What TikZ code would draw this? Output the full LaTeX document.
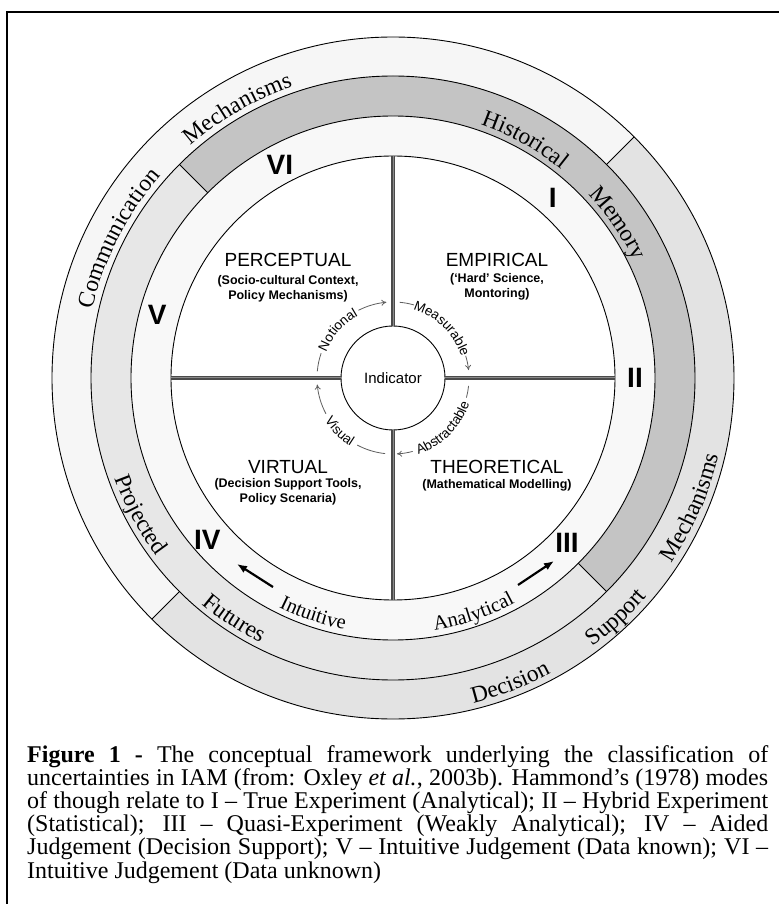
\documentclass[tikz,border=0pt]{standalone}
\usepackage{fontspec}
\setmainfont{Liberation Serif}
\setsansfont{Liberation Sans}
\usetikzlibrary{arrows.meta,decorations.text}

\definecolor{bandlight}{HTML}{F6F6F6}
\definecolor{banddark}{HTML}{E3E3E3}
\definecolor{memgray}{HTML}{C4C4C4}
\definecolor{futgray}{HTML}{E7E7E7}
\definecolor{innerband}{HTML}{F8F8F8}
\definecolor{axisgray}{HTML}{4A4A4A}
\definecolor{axismid}{HTML}{8A8A8A}
\definecolor{loopgray}{HTML}{606060}

\newcommand\ringfont{\rmfamily\fontsize{23.5}{23.5}\selectfont}
\newcommand\bandfont{\rmfamily\fontsize{20.5}{20.5}\selectfont}
\newcommand\loopfont{\sffamily\fontsize{13.5}{13.5}\selectfont}
\newcommand\captionfont{\rmfamily\fontsize{24}{23.2}\selectfont}

% a word bent along a ring, read clockwise (tops outwards)
\newcommand\cwword[4][\ringfont]{%
  \path[decorate, decoration={text along path, text align=center, text={|#1|#4}}]
    (#2+45:#3) arc[start angle=#2+45, end angle=#2-45, radius=#3];}
% a word bent along a ring, read anticlockwise (tops inwards)
\newcommand\ccwword[4][\ringfont]{%
  \path[decorate, decoration={text along path, text align=center, text={|#1|#4}}]
    (#2-45:#3) arc[start angle=#2-45, end angle=#2+45, radius=#3];}

\begin{document}
\begin{tikzpicture}[x=1pt, y=1pt,
    ring/.style={line width=0.9pt},
    crossline/.style={draw=axisgray, line width=1.2pt, double=axismid, double distance=1pt},
    looparc/.style={line width=0.8pt, loopgray},
    numeral/.style={font=\sffamily\bfseries\fontsize{28}{28}\selectfont, inner sep=0pt},
    quadtitle/.style={font=\sffamily\fontsize{19}{19}\selectfont, inner sep=0pt},
    quadsub/.style={font=\sffamily\bfseries\fontsize{12.5}{14.5}\selectfont, align=center, inner sep=0pt},
    bigarrow/.style={line width=2.2pt, -{Latex[length=10pt,width=8pt]}}]
  \useasboundingbox (-393,-526) rectangle (386,378);

  % Frame round figure and caption
  \draw[line width=1.4pt] (-386,-526) -- (-386,366) -- (386,366);

  % Shade the three bands
  \fill[bandlight] (45:341) arc[start angle=45, end angle=225, radius=341]
    -- (225:302) arc[start angle=225, end angle=45, radius=302] -- cycle;
  \fill[banddark] (225:341) arc[start angle=225, end angle=405, radius=341]
    -- (45:302) arc[start angle=405, end angle=225, radius=302] -- cycle;
  \fill[memgray] (-45:302) arc[start angle=-45, end angle=135, radius=302]
    -- (135:262) arc[start angle=135, end angle=-45, radius=262] -- cycle;
  \fill[futgray] (135:302) arc[start angle=135, end angle=315, radius=302]
    -- (315:262) arc[start angle=315, end angle=135, radius=262] -- cycle;
  \fill[innerband] (0,0) circle[radius=262];
  \fill[white] (0,0) circle[radius=222];

  % Ring outlines and the dividers between sectors
  \foreach \r in {341,302,262,222} {
    \draw[ring] (0,0) circle[radius=\r];
  }
  \draw[ring] (45:302) -- (45:341);
  \draw[ring] (225:302) -- (225:341);
  \draw[ring] (135:262) -- (135:302);
  \draw[ring] (315:262) -- (315:302);

  % Words written along the rings
  \cwword{153}{308}{Communication}
  \cwword{120}{308}{Mechanisms}
  \cwword{61}{268}{Historical}
  \cwword{34.5}{268}{Memory}
  \ccwword{208.4}{296}{Projected}
  \ccwword{236.6}{296}{Futures}
  \ccwword{291}{335}{Decision}
  \ccwword{313}{335}{Support}
  \ccwword{336.5}{335}{Mechanisms}
  \ccwword[\bandfont]{251.3}{256}{Intuitive}
  \ccwword[\bandfont]{288.9}{256}{Analytical}

  % Roman numerals in the inner band
  \foreach \ang/\rad/\num [count=\k] in {48.5/241/I, 0/242/II, 316.5/240/III,
      221/246/IV, 165/244/V, 118/241/VI} {
    \node[numeral] (num\k) at (\ang:\rad) {\num};
  }

  % Thick arrows towards IV and III
  \coordinate (intu-tail) at (-120,-209);
  \coordinate (intu-head) at (-156,-186);
  \coordinate (ana-tail) at (125,-207);
  \coordinate (ana-head) at (161,-183);
  \draw[bigarrow] (intu-tail) -- (intu-head);
  \draw[bigarrow] (ana-tail) -- (ana-head);

  % Indicator in the middle, with the four quadrant lines
  \node[circle, draw, line width=0.9pt, fill=white, minimum size=104pt, inner sep=0pt,
    font=\sffamily\fontsize{15}{15}\selectfont] (ind) at (0,0) {Indicator};
  \foreach \ang/\side in {0/east, 90/north, 180/west, 270/south} {
    \coordinate (rim-\side) at (\ang:222);
    \draw[crossline] (ind.\side) -- (rim-\side);
  }

  % Quadrant names
  \node[quadtitle] (perc) at (-105,118) {PERCEPTUAL};
  \node[quadsub] (perc-sub) at (-105,89) {(Socio-cultural Context,\\Policy Mechanisms)};
  \node[quadtitle] (emp) at (104,118) {EMPIRICAL};
  \node[quadsub] (emp-sub) at (104,91) {(`Hard' Science,\\Montoring)};
  \node[quadtitle] (virt) at (-105,-89) {VIRTUAL};
  \node[quadsub] (virt-sub) at (-105,-114) {(Decision Support Tools,\\Policy Scenaria)};
  \node[quadtitle] (theo) at (104,-89) {THEORETICAL};
  \node[quadsub] (theo-sub) at (104,-107) {(Mathematical Modelling)};

  % Cycle round the indicator, broken where the words sit
  \draw[looparc] (175:76) arc[start angle=175, end angle=161, radius=76];
  \draw[looparc, -{To[length=5pt,width=6pt]}] (117:76) arc[start angle=117, end angle=95, radius=76];
  \cwword[\loopfont]{139}{71.5}{Notional}
  \draw[looparc] (85:76) arc[start angle=85, end angle=74, radius=76];
  \draw[looparc, -{To[length=5pt,width=6pt]}] (17:76) arc[start angle=17, end angle=6, radius=76];
  \cwword[\loopfont]{45.5}{71.5}{Measurable}
  \draw[looparc] (354:76) arc[start angle=354, end angle=345, radius=76];
  \draw[looparc, -{To[length=5pt,width=6pt]}] (285:76) arc[start angle=285, end angle=273, radius=76];
  \ccwword[\loopfont]{315}{80.5}{Abstractable}
  \draw[looparc] (264:76) arc[start angle=264, end angle=242, radius=76];
  \draw[looparc, -{To[length=5pt,width=6pt]}] (208:76) arc[start angle=208, end angle=185, radius=76];
  \ccwword[\loopfont]{225}{80.5}{Visual}

  % Caption
  \node[anchor=north west, text width=741pt, align=justify, inner sep=0pt,
    font=\captionfont] (caption) at (-366,-367) {\hyphenpenalty=10000
    \textbf{Figure 1 -} The conceptual framework underlying the classification of\linebreak
    uncertainties in IAM (from: Oxley \textit{et al.}, 2003b). Hammond’s (1978) modes\linebreak
    of though relate to I – True Experiment (Analytical); II – Hybrid Experiment\linebreak
    (Statistical); III – Quasi-Experiment (Weakly Analytical); IV – Aided\linebreak
    Judgement (Decision Support); V – Intuitive Judgement (Data known); VI~–\linebreak
    Intuitive Judgement (Data unknown)};
\end{tikzpicture}
\end{document}
